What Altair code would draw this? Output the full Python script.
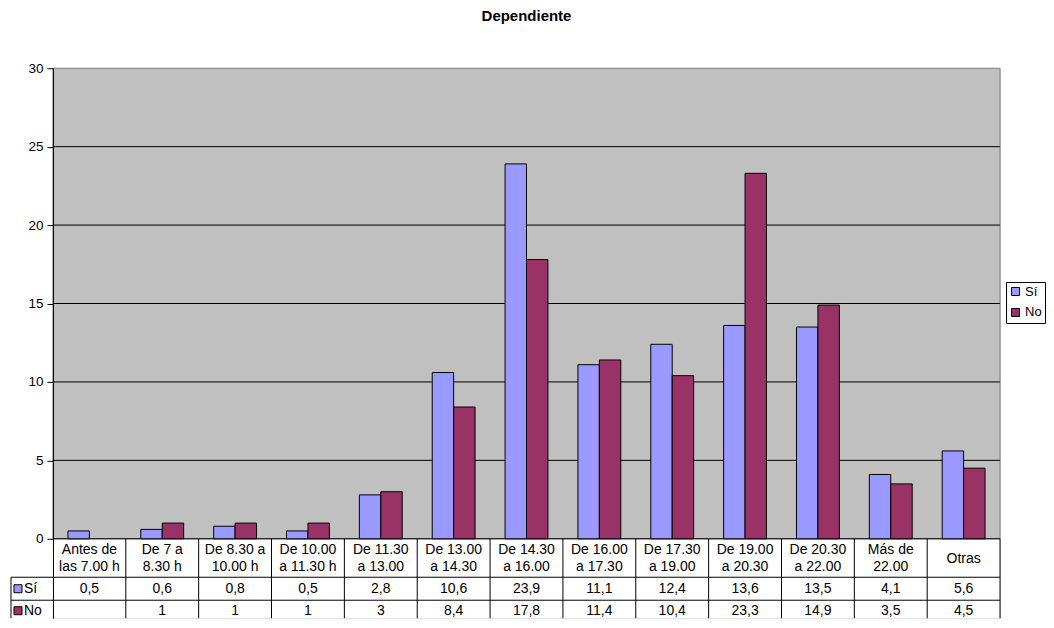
import altair as alt
import pandas as pd

# ---------------- data ----------------
categories = [
    "Antes de\nlas 7.00 h", "De 7 a\n8.30 h", "De 8.30 a\n10.00 h", "De 10.00\na 11.30 h",
    "De 11.30\na 13.00", "De 13.00\na 14.30", "De 14.30\na 16.00", "De 16.00\na 17.30",
    "De 17.30\na 19.00", "De 19.00\na 20.30", "De 20.30\na 22.00", "Más de\n22.00", "Otras",
]
si_values = [0.5, 0.6, 0.8, 0.5, 2.8, 10.6, 23.9, 11.1, 12.4, 13.6, 13.5, 4.1, 5.6]
no_values = [None, 1, 1, 1, 3, 8.4, 17.8, 11.4, 10.4, 23.3, 14.9, 3.5, 4.5]
series = ["Sí", "No"]
colors = ["#9999FF", "#993366"]
y_ticks = [0, 5, 10, 15, 20, 25, 30]
title_text = "Dependiente"

# ---------------- layout ----------------
FONT = "Liberation Sans"
W = 948          # plot width
H_BARS = 471     # height of 0..30 region
H_HEAD = 38.5    # table header row
H_ROW = 23       # table data rows
H = H_BARS + H_HEAD + H_ROW + 18   # last row is cut at the bottom edge, as in the reference
YMAX = 30
YMIN = -YMAX * (H - H_BARS) / H_BARS
LEFT_COL = 42

def fmt(v):
    if v is None:
        return ""
    return f"{v:g}".replace(".", ",")

rows = []
for c, s, n in zip(categories, si_values, no_values):
    rows.append({"cat": c, "series": "Sí", "value": s, "label": fmt(s)})
    rows.append({"cat": c, "series": "No", "value": n, "label": fmt(n)})
df = pd.DataFrame(rows)
df_bars = df.dropna(subset=["value"])
df_cats = pd.DataFrame({"cat": categories})
df_grid = pd.DataFrame({"v": y_ticks[:-1]})
one = pd.DataFrame({"k": [0]})

x_scale = alt.Scale(domain=categories, paddingInner=0, paddingOuter=0)
y_scale = alt.Scale(domain=[YMIN, YMAX], nice=False, zero=False)
y_axis = alt.Axis(values=y_ticks, title=None, grid=False, domainColor="black",
                  tickColor="black", labelColor="black", labelFontSize=13.5,
                  labelFont=FONT, tickSize=6, labelPadding=4, zindex=1)

def X(**kw):
    return alt.X("cat:N", scale=x_scale, axis=None, **kw)

# gray plot background
bg = alt.Chart(one).mark_rect(fill="#C0C0C0", stroke="#808080", strokeWidth=1).encode(
    x=alt.value(0), x2=alt.value(W),
    y=alt.Y("a:Q", scale=y_scale, axis=y_axis, title=None), y2="b:Q",
).transform_calculate(a="0", b=str(YMAX))

grid = alt.Chart(df_grid).mark_rule(color="black", strokeWidth=1).encode(
    y=alt.Y("v:Q", scale=y_scale, axis=y_axis, title=None),
    x=alt.value(0), x2=alt.value(W),
)

bars = alt.Chart(df_bars).mark_bar(stroke="black", strokeWidth=1).encode(
    x=X(),
    xOffset=alt.XOffset("series:N", scale=alt.Scale(domain=series, paddingInner=0, paddingOuter=0.7)),
    y=alt.Y("value:Q", scale=y_scale, axis=y_axis, title=None),
    color=alt.Color("series:N", scale=alt.Scale(domain=series, range=colors),
                    legend=alt.Legend(title=None, orient="none", legendX=W + 6, legendY=214,
                                      strokeColor="black", padding=3, symbolType="square",
                                      symbolSize=64, symbolStrokeColor="black",
                                      symbolStrokeWidth=1, labelFontSize=13, labelFont=FONT,
                                      labelColor="black", rowPadding=7, labelOffset=3)),
)

# table: vertical lines at band right edges
vlines = alt.Chart(df_cats).mark_rule(color="black", strokeWidth=1).encode(
    x=X(bandPosition=1), y=alt.value(H_BARS), y2=alt.value(H),
)

def hline(ypx, x0):
    return alt.Chart(one).mark_rule(color="black", strokeWidth=1).encode(
        x=alt.value(x0), x2=alt.value(W), y=alt.value(ypx))

hl1 = hline(H_BARS + H_HEAD, -LEFT_COL)
hl2 = hline(H_BARS + H_HEAD + H_ROW, -LEFT_COL)
left_edge = alt.Chart(one).mark_rule(color="black", strokeWidth=1).encode(
    x=alt.value(-LEFT_COL), y=alt.value(H_BARS + H_HEAD), y2=alt.value(H),
)

LINE_H = 17
head_two = alt.Chart(df_cats).transform_filter(
    "indexof(datum.cat, '\\n') >= 0"
).mark_text(
    font=FONT, fontSize=14, lineBreak="\n", lineHeight=LINE_H, baseline="middle", color="black"
).encode(x=X(), y=alt.value(H_BARS + H_HEAD / 2 - LINE_H / 2 + 0.5), text="cat:N")
head_one = alt.Chart(df_cats).transform_filter(
    "indexof(datum.cat, '\\n') < 0"
).mark_text(
    font=FONT, fontSize=14, baseline="middle", color="black"
).encode(x=X(), y=alt.value(H_BARS + H_HEAD / 2 + 0.5), text="cat:N")

layers = [bg, grid, bars, vlines, hl1, hl2, left_edge, head_two, head_one]

for i, (s, col) in enumerate(zip(series, colors)):
    ymid = H_BARS + H_HEAD + H_ROW * i + H_ROW / 2 - i
    vals = alt.Chart(df).transform_filter(alt.datum.series == s).mark_text(
        font=FONT, fontSize=14, baseline="middle", color="black"
    ).encode(x=X(), y=alt.value(ymid), text="label:N")
    key = alt.Chart(one).mark_square(size=64, fill=col, stroke="black", strokeWidth=1,
                                     opacity=1).encode(
        x=alt.value(-LEFT_COL + 7), y=alt.value(ymid))
    key_lab = alt.Chart(one).transform_calculate(t=f"'{s}'").mark_text(
        font=FONT, fontSize=14, baseline="middle", align="left", color="black"
    ).encode(x=alt.value(-LEFT_COL + 13), y=alt.value(ymid), text="t:N")
    layers += [vals, key, key_lab]

chart = alt.layer(*layers).properties(
    width=W, height=H,
    padding={"left": 2, "top": 0, "right": 0, "bottom": 0},
    title=alt.TitleParams(title_text, font=FONT, fontSize=15, fontWeight="bold",
                          color="black", anchor="middle", offset=37.5),
).configure_view(stroke=None).configure(font=FONT)

chart.save("out.html", embed_options={"renderer": "svg", "actions": False})
